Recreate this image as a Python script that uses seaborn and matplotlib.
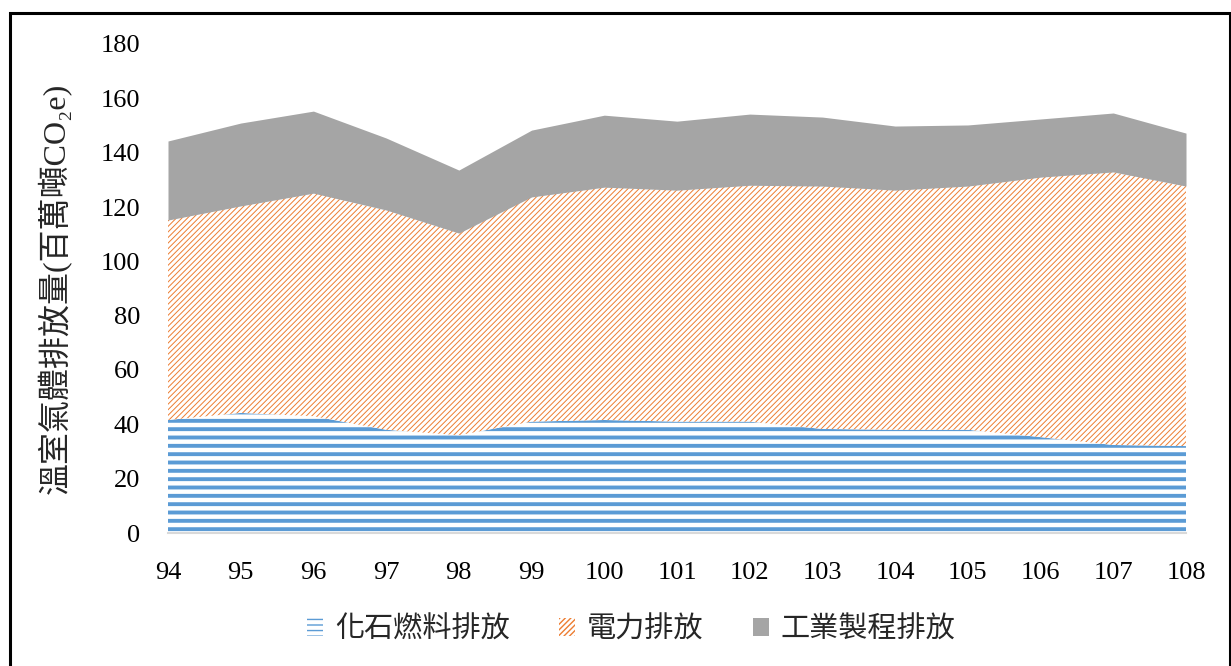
import numpy as np
import pandas as pd
import seaborn as sns
import matplotlib.pyplot as plt
import matplotlib as mpl
from matplotlib.patches import Patch, Rectangle

# data (stacked values, million tonnes CO2e)
years = [94, 95, 96, 97, 98, 99, 100, 101, 102, 103, 104, 105, 106, 107, 108]
fossil = [41.6, 44.2, 43.0, 38.0, 36.0, 41.0, 41.6, 41.0, 41.0, 38.3, 38.0, 38.0, 35.3, 32.4, 32.0]
power = [73.6, 76.2, 82.1, 80.9, 74.4, 82.7, 85.7, 85.2, 87.0, 89.4, 88.2, 89.7, 95.7, 100.5, 95.7]
industry = [29.1, 30.5, 30.2, 26.5, 23.2, 24.6, 26.5, 25.4, 26.2, 25.4, 23.6, 22.5, 21.4, 21.7, 19.5]

labels = ['化石燃料排放', '電力排放', '工業製程排放']
colors = ['#5B9BD5', '#ED7D31', '#A5A5A5']

df = pd.DataFrame({'year': years, 'fossil': fossil, 'power': power, 'industry': industry})
df['top1'] = df['fossil']
df['top2'] = df['top1'] + df['power']
df['top3'] = df['top2'] + df['industry']

sns.set_theme(style='white')
plt.rcParams['font.family'] = ['Liberation Serif', 'Noto Sans CJK TC', 'DejaVu Sans']

fig = plt.figure(figsize=(12.31, 6.66), dpi=100)
ax = fig.add_axes([168/1231, 1-533/666, (1186-168)/1231, (533-44)/666])

# fossil fuel: horizontal blue stripes
with mpl.rc_context({'hatch.linewidth': 2.8}):
    ax.fill_between(df['year'], 0, df['top1'], facecolor='white', edgecolor=colors[0],
                    hatch='--', linewidth=0)
# electricity: thin orange diagonals
with mpl.rc_context({'hatch.linewidth': 0.7}):
    ax.fill_between(df['year'], df['top1'], df['top2'], facecolor='white', edgecolor=colors[1],
                    hatch='//////', linewidth=0)
# industrial process: solid gray
ax.fill_between(df['year'], df['top2'], df['top3'], facecolor=colors[2], linewidth=0)

ax.set_xlim(94, 108)
ax.set_ylim(0, 180)
ax.set_xticks(years)
ax.set_xticklabels([str(y) for y in years])
ax.set_yticks(np.arange(0, 181, 20))
ax.tick_params(axis='both', length=0, labelsize=19, colors='black')
ax.tick_params(axis='y', pad=20)
ax.tick_params(axis='x', pad=21)

for s in ['top', 'left', 'right']:
    ax.spines[s].set_visible(False)
ax.spines['bottom'].set_color('#D9D9D9')
ax.spines['bottom'].set_linewidth(1.5)
ax.set_xlabel('')
ax.set_ylabel('溫室氣體排放量(百萬噸CO₂e)', fontsize=23)
ax.yaxis.set_label_coords(-0.094, 0.5)

# legend
with mpl.rc_context({'hatch.linewidth': 2.5}):
    h1 = Patch(facecolor='white', edgecolor=colors[0], hatch='---', linewidth=0, label=labels[0])
with mpl.rc_context({'hatch.linewidth': 0.8}):
    h2 = Patch(facecolor='white', edgecolor=colors[1], hatch='//////', linewidth=0, label=labels[1])
h3 = Patch(facecolor=colors[2], linewidth=0, label=labels[2])
fig.legend(handles=[h1, h2, h3], loc='center', bbox_to_anchor=(0.513, 1-630/666), ncol=3,
           frameon=False, fontsize=21, handlelength=0.55, handleheight=0.55,
           handletextpad=0.4, columnspacing=1.7)

# outer border
fig.patches.append(Rectangle((10/1231, -0.05), 1220/1231, 1.05-13/666, transform=fig.transFigure,
                             fill=False, edgecolor='black', linewidth=2.2))

fig.savefig('out.png', dpi=100)
